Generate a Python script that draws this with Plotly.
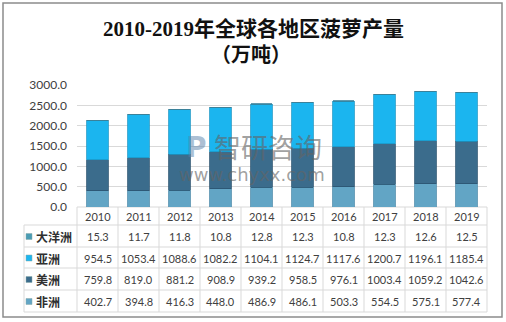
import plotly.graph_objects as go

years = ["2010", "2011", "2012", "2013", "2014", "2015", "2016", "2017", "2018", "2019"]
series_names = ["大洋洲", "亚洲", "美洲", "非洲"]
oceania = [15.3, 11.7, 11.8, 10.8, 12.8, 12.3, 10.8, 12.3, 12.6, 12.5]
asia = [954.5, 1053.4, 1088.6, 1082.2, 1104.1, 1124.7, 1117.6, 1200.7, 1196.1, 1185.4]
america = [759.8, 819.0, 881.2, 908.9, 939.2, 958.5, 976.1, 1003.4, 1059.2, 1042.6]
africa = [402.7, 394.8, 416.3, 448.0, 486.9, 486.1, 503.3, 554.5, 575.1, 577.4]
y_ticks = [0, 500, 1000, 1500, 2000, 2500, 3000]

W, H = 506, 322
PL, PR, PT, PB = 77, 487, 85, 207  # plot area in pixels

def px(x):
    return (x - PL) / (PR - PL)

def py(y):
    return (PB - y) / (PB - PT)

colors = {"非洲": "#62a5c5", "美洲": "#3b6c8c", "亚洲": "#1bb5ef", "大洋洲": "#4a9cb4"}
edges = {"非洲": "#4a8aaa", "美洲": "#2a5470", "亚洲": "#1a98c8", "大洋洲": "#3a7f98"}
data_map = {"大洋洲": oceania, "亚洲": asia, "美洲": america, "非洲": africa}

fig = go.Figure()
for name in ["非洲", "美洲", "亚洲", "大洋洲"]:
    fig.add_trace(go.Bar(
        x=years, y=data_map[name], name=name,
        marker=dict(color=colors[name], line=dict(color=edges[name], width=0.8)),
        width=0.53, showlegend=False, hoverinfo="skip"))

shapes = []
annotations = []
grid = "#d9d9d9"
n = len(years)
colw = (PR - PL) / n
row_lines = [207, 225, 247, 268, 290, 312]
row_centers = [216.5, 236.5, 258, 279.5, 301.5]

# horizontal table lines
for i, yl in enumerate(row_lines):
    x0 = PL if i == 0 else 24
    shapes.append(dict(type="line", xref="paper", yref="paper", x0=px(x0), x1=px(PR),
                       y0=py(yl), y1=py(yl), line=dict(color=grid, width=1), layer="below"))
# vertical table lines
for j in range(n + 1):
    xv = PL + j * colw
    shapes.append(dict(type="line", xref="paper", yref="paper", x0=px(xv), x1=px(xv),
                       y0=py(207), y1=py(312), line=dict(color=grid, width=1)))
shapes.append(dict(type="line", xref="paper", yref="paper", x0=px(24), x1=px(24),
                   y0=py(225), y1=py(312), line=dict(color=grid, width=1)))
# outer border
shapes.append(dict(type="rect", xref="paper", yref="paper", x0=px(3), x1=px(502),
                   y0=py(3), y1=py(317), line=dict(color="#8c8c8c", width=1.5)))

num_font = dict(family="Lato, Open Sans, sans-serif", size=11, color="#404040")
# header years
for j, yr in enumerate(years):
    annotations.append(dict(x=px(PL + (j + 0.5) * colw), y=py(row_centers[0]), xref="paper", yref="paper",
                            text=yr, showarrow=False, font=num_font, xanchor="center", yanchor="middle"))
# rows
for r, name in enumerate(series_names):
    yc = row_centers[r + 1]
    shapes.append(dict(type="rect", xref="paper", yref="paper", x0=px(26), x1=px(32),
                       y0=py(yc - 3), y1=py(yc + 3), fillcolor=colors[name],
                       line=dict(color="#8aa", width=0.5)))
    annotations.append(dict(x=px(34), y=py(yc), xref="paper", yref="paper", text="<b>" + name + "</b>",
                            showarrow=False, xanchor="left", yanchor="middle",
                            font=dict(family="Noto Sans CJK SC", size=12, color="#303030")))
    for j, v in enumerate(data_map[name]):
        annotations.append(dict(x=px(PL + (j + 0.5) * colw), y=py(yc), xref="paper", yref="paper",
                                text=f"{v:.1f}", showarrow=False, font=num_font,
                                xanchor="center", yanchor="middle"))

# title
title_font = dict(family="Liberation Serif, Noto Sans CJK SC", size=21, color="#111111")
annotations.append(dict(x=px(253), y=py(29), xref="paper", yref="paper", text="<b>2010-2019年全球各地区菠萝产量</b>",
                        showarrow=False, xanchor="center", yanchor="middle", font=title_font))
annotations.append(dict(x=px(251), y=py(55), xref="paper", yref="paper", text="<b>（万吨）</b>",
                        showarrow=False, xanchor="center", yanchor="middle",
                        font=dict(family="Liberation Serif, Noto Sans CJK SC", size=20, color="#111111")))

# watermark
wm = "rgba(100,100,100,0.62)"
annotations.append(dict(x=px(268), y=py(146), xref="paper", yref="paper", text="智研咨询",
                        showarrow=False, xanchor="center", yanchor="middle",
                        font=dict(family="Noto Sans CJK SC", size=27, color=wm)))
annotations.append(dict(x=px(252), y=py(174), xref="paper", yref="paper", text="www.chyxx.com",
                        showarrow=False, xanchor="center", yanchor="middle",
                        font=dict(family="DejaVu Sans", size=18, color=wm)))
annotations.append(dict(x=px(196), y=py(147), xref="paper", yref="paper", text="<b>P</b>",
                        showarrow=False, xanchor="center", yanchor="middle",
                        font=dict(family="DejaVu Sans", size=28, color="rgba(90,130,170,0.5)")))

fig.update_layout(
    width=W, height=H, barmode="stack",
    margin=dict(l=PL, r=W - PR, t=PT, b=H - PB),
    paper_bgcolor="white", plot_bgcolor="white",
    xaxis=dict(type="category", showticklabels=False, showgrid=False, zeroline=False,
               showline=False, range=[-0.5, n - 0.5], fixedrange=True),
    yaxis=dict(range=[0, 3000], tickvals=y_ticks, tickformat=".1f", showgrid=True,
               gridcolor=grid, gridwidth=1, zeroline=False, showline=False,
               ticks="", ticklabelstandoff=9,
               tickfont=dict(family="Lato, Open Sans, sans-serif", size=12, color="#404040")),
    shapes=shapes, annotations=annotations, bargap=0.47,
)

fig.write_html("out.html")
